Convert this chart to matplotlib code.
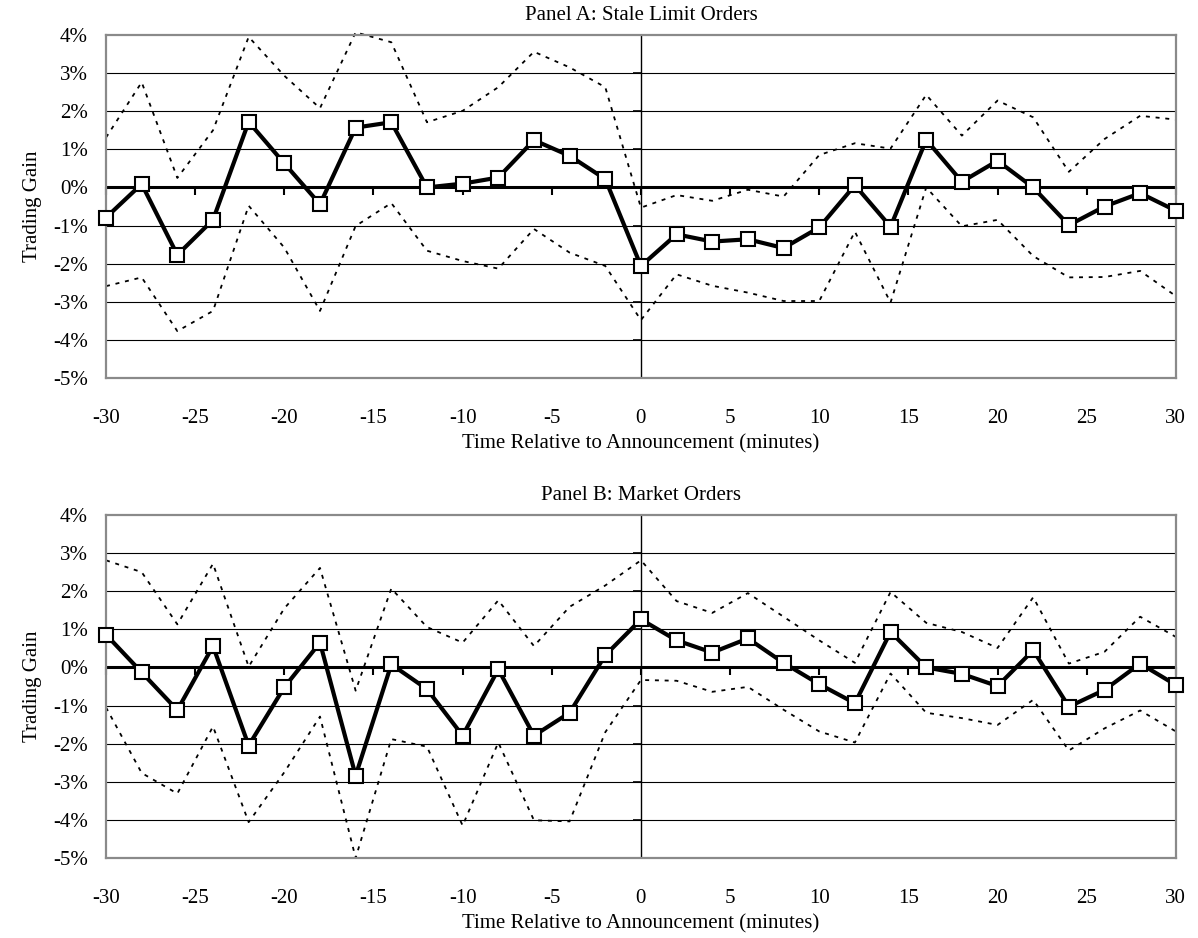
import numpy as np
import matplotlib
matplotlib.use("Agg")
import matplotlib.pyplot as plt
from matplotlib.ticker import FuncFormatter, FixedLocator

plt.rcParams['font.family'] = ['Liberation Serif', 'DejaVu Serif']

# minutes relative to the announcement
minutes = [-30, -28, -26, -24, -22, -20, -18, -16, -14, -12, -10, -8, -6, -4, -2,
           0, 2, 4, 6, 8, 10, 12, 14, 16, 18, 20, 22, 24, 26, 28, 30]

# Panel A: stale limit orders (trading gain, %)
stale_gain = [-0.79, 0.09, -1.77, -0.85, 1.72, 0.63, -0.44, 1.57, 1.71, 0.0, 0.10, 0.26, 1.24, 0.83, 0.22,
              -2.06, -1.23, -1.42, -1.36, -1.59, -1.05, 0.06, -1.03, 1.25, 0.15, 0.70, 0.0, -0.99, -0.50, -0.15, -0.61]
stale_upper = [1.31, 2.76, 0.25, 1.50, 3.95, 2.93, 2.08, 4.07, 3.81, 1.71, 2.01, 2.63, 3.56, 3.15, 2.63,
               -0.53, -0.20, -0.35, -0.06, -0.24, 0.85, 1.16, 1.02, 2.43, 1.36, 2.28, 1.84, 0.41, 1.27, 1.88, 1.78]
stale_lower = [-2.59, -2.36, -3.77, -3.24, -0.48, -1.58, -3.24, -1.01, -0.41, -1.66, -1.93, -2.13, -1.09, -1.71, -2.06,
               -3.48, -2.28, -2.58, -2.76, -2.98, -2.98, -1.16, -3.02, 0.0, -1.02, -0.85, -1.80, -2.36, -2.35, -2.19, -2.85]

# Panel B: market orders (trading gain, %)
market_gain = [0.86, -0.13, -1.12, 0.56, -2.05, -0.52, 0.65, -2.84, 0.08, -0.57, -1.79, -0.05, -1.79, -1.19, 0.32,
               1.26, 0.71, 0.39, 0.76, 0.12, -0.44, -0.94, 0.93, 0.0, -0.17, -0.49, 0.45, -1.03, -0.59, 0.10, -0.46]
market_upper = [2.81, 2.50, 1.13, 2.72, 0.02, 1.55, 2.61, -0.61, 2.07, 1.06, 0.65, 1.76, 0.56, 1.59, 2.15,
                2.81, 1.74, 1.43, 1.95, 1.33, 0.71, 0.12, 1.98, 1.17, 0.93, 0.51, 1.84, 0.10, 0.41, 1.33, 0.80]
market_lower = [-1.05, -2.77, -3.31, -1.55, -4.06, -2.75, -1.29, -5.00, -1.88, -2.08, -4.15, -1.97, -4.01, -4.04, -1.70,
                -0.33, -0.35, -0.64, -0.51, -1.11, -1.68, -1.97, -0.16, -1.19, -1.33, -1.51, -0.85, -2.18, -1.60, -1.13, -1.68]

x_ticks = [-30, -25, -20, -15, -10, -5, 0, 5, 10, 15, 20, 25, 30]
y_ticks = [-5, -4, -3, -2, -1, 0, 1, 2, 3, 4]

panels = [
    ("Panel A: Stale Limit Orders", stale_gain, stale_upper, stale_lower),
    ("Panel B: Market Orders", market_gain, market_upper, market_lower),
]

fig = plt.figure(figsize=(11.98, 9.38), dpi=100)
boxes = [[0.0885, 0.597, 0.893, 0.3657], [0.0885, 0.0853, 0.893, 0.3657]]
fs = 15
ymin, ymax = -5, 4

for (title, gain, upper, lower), box in zip(panels, boxes):
    ax = fig.add_axes(box)
    ax.set_xlim(-30, 30)
    ax.set_ylim(ymin, ymax)

    # horizontal gridlines
    for v in y_ticks[1:-1]:
        if v != 0:
            ax.axhline(v, color='black', lw=0.8, zorder=1)
    # axes crossing at zero
    ax.axhline(0, color='black', lw=2.2, zorder=1.5)
    ax.axvline(0, color='black', lw=1.0, zorder=1.5)

    # confidence bands
    ax.plot(minutes, upper, color='black', lw=1.3, ls=(0, (2.2, 3.2)), zorder=2, clip_on=False)
    ax.plot(minutes, lower, color='black', lw=1.3, ls=(0, (2.2, 3.2)), zorder=2, clip_on=False)

    # trading gain
    ax.plot(minutes, gain, color='black', lw=3, marker='s', markersize=10,
            markerfacecolor='white', markeredgecolor='black', markeredgewidth=1.5,
            zorder=5, clip_on=False)

    for s in ax.spines.values():
        s.set_color('#8a8a8a')
        s.set_linewidth(1.6)

    ax.xaxis.set_major_locator(FixedLocator(x_ticks))
    ax.yaxis.set_major_locator(FixedLocator(y_ticks))
    ax.xaxis.set_major_formatter(FuncFormatter(lambda v, p: f"{v:.0f}"))
    ax.yaxis.set_major_formatter(FuncFormatter(lambda v, p: f"{v:.0f}%"))
    ax.tick_params(axis='x', length=0, pad=22.5, labelsize=fs)
    ax.tick_params(axis='y', length=0, pad=13, labelsize=fs)

    # tick marks on the zero axes
    zx = ax.secondary_xaxis((0 - ymin) / (ymax - ymin))
    zx.set_xticks(x_ticks)
    zx.tick_params(axis='x', direction='out', length=6, width=1.5, labelbottom=False,
                   labeltop=False, top=False, bottom=True)
    for s in zx.spines.values():
        s.set_visible(False)

    zy = ax.secondary_yaxis(0.5)
    zy.set_yticks(y_ticks)
    zy.tick_params(axis='y', direction='out', length=6, width=1.2, labelleft=False,
                   labelright=False, left=True, right=False)
    for s in zy.spines.values():
        s.set_visible(False)

    ax.set_title(title, fontsize=fs, pad=11)
    ax.set_xlabel("Time Relative to Announcement (minutes)", fontsize=fs, labelpad=4.5)
    ax.set_ylabel("Trading Gain", fontsize=fs, labelpad=8)

fig.savefig("out.png", dpi=100)
